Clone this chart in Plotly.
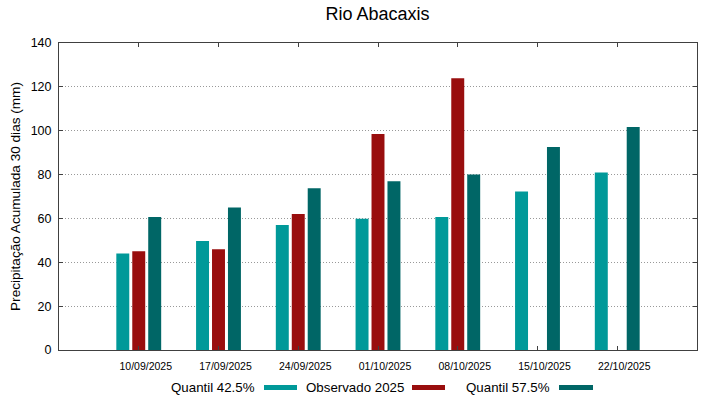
import plotly.graph_objects as go

categories = ["10/09/2025", "17/09/2025", "24/09/2025", "01/10/2025",
              "08/10/2025", "15/10/2025", "22/10/2025"]
quantil_425 = [44.0, 49.7, 57.0, 59.8, 60.7, 72.3, 81.0]
observado_2025 = [45.0, 46.0, 62.0, 98.5, 123.9, None, None]
quantil_575 = [60.7, 65.0, 73.8, 77.0, 80.0, 92.6, 101.7]

series_names = ["Quantil 42.5%", "Observado 2025", "Quantil 57.5%"]
series_values = [quantil_425, observado_2025, quantil_575]
colors = ["#009999", "#990e0e", "#006666"]

W, H = 719, 399
L, R, T, B = 59, 22, 43, 49
pw, ph = W - L - R, H - T - B
FONT = "Liberation Sans, Arial, sans-serif"

fig = go.Figure()
for name, vals, col in zip(series_names, series_values, colors):
    fig.add_trace(go.Bar(x=categories, y=vals, name=name,
                         marker=dict(color=col, line=dict(width=0)),
                         showlegend=False))

def px_x(p):
    return (p - L) / pw

def px_y(p):
    return (H - B - p) / ph

# custom legend: text followed by a colored line sample
legend_y = px_y(387.5)
legend_layout = [(257, 264, 297), (406, 412, 445), (552, 559, 593)]
for (tx, x0, x1), name, col in zip(legend_layout, series_names, colors):
    fig.add_annotation(text=name, x=px_x(tx), y=legend_y, xref="paper", yref="paper",
                       xanchor="right", yanchor="middle", showarrow=False,
                       font=dict(size=13.3, color="#000000", family=FONT))
    fig.add_shape(type="line", xref="paper", yref="paper",
                  x0=px_x(x0), x1=px_x(x1), y0=legend_y, y1=legend_y,
                  line=dict(color=col, width=5))

fig.update_layout(
    width=W, height=H,
    margin=dict(l=L, r=R, t=T, b=B, pad=0),
    paper_bgcolor="white", plot_bgcolor="white",
    font=dict(family=FONT, color="#000000"),
    barmode="group", bargap=0.4, bargroupgap=0.1875,
    title=dict(text="Rio Abacaxis", x=px_x(377.5), xref="paper",
               y=1 - 14 / H, yref="container", xanchor="center", yanchor="middle",
               font=dict(size=18, family=FONT, color="#000000")),
    xaxis=dict(type="category", range=[-1, 7], showline=True, linecolor="#404040",
               linewidth=1, mirror="ticks", ticks="inside", ticklen=4,
               tickcolor="#404040", tickwidth=1, showgrid=False,
               tickfont=dict(size=10.5, family=FONT, color="#000000"),
               ticklabelshift=7, ticklabelstandoff=6),
    yaxis=dict(range=[0, 140], dtick=20, showline=True, linecolor="#404040",
               linewidth=1, mirror="ticks", ticks="inside", ticklen=4,
               tickcolor="#404040", tickwidth=1, showgrid=True,
               gridcolor="#999999", griddash="1px,2px", gridwidth=1,
               zeroline=False,
               tickfont=dict(size=12.5, family=FONT, color="#000000"),
               ticklabelstandoff=4,
               title=dict(text="Precipitação Acumulada 30 dias (mm)", standoff=6,
                          font=dict(size=13.6, family=FONT, color="#000000"))),
)

fig.write_html("out.html", config={"displayModeBar": False},
               post_script="document.body.style.margin='0';")
